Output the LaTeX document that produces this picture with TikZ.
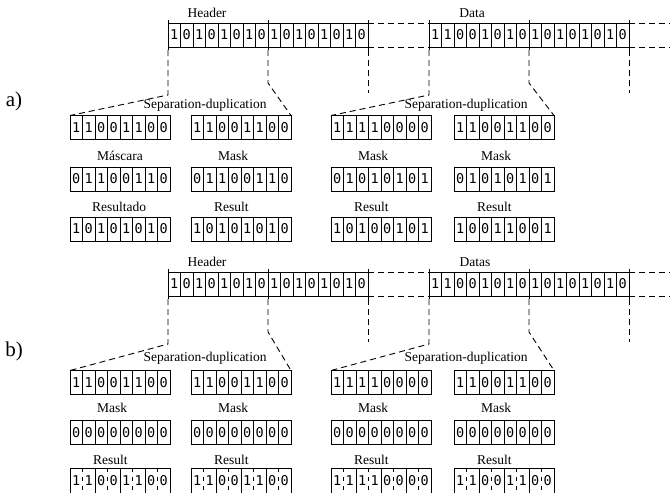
\documentclass[tikz,border=0pt]{standalone}
\usepackage{fontspec}
\setmainfont{Liberation Serif}
\newfontfamily\bitfont{DejaVu Sans Mono}
\usepackage{tikz}

% one row of bit cells: name, left x, centre y, bits
\newcommand{\bitrow}[4]{%
  \foreach \bitv [count=\idx] in {#4}
    \node[bit] (#1-\idx) at ({#2+12.5*(\idx-0.5)},#3) {\bitv};%
}
% same, cells grouped two by two
\newcommand{\pairrow}[4]{%
  \foreach \bitv [count=\idx] in {#4}
    \node[pbit] (#1-\idx) at ({#2+12.5*(\idx-0.5)},#3) {\bitv};%
  \draw[frame] (#1-1.north west) rectangle (#1-8.south east);%
  \foreach \idx in {2,4,6} \draw[frame] (#1-\idx.north east) -- (#1-\idx.south east);%
  \foreach \idx in {1,3,5,7} \draw[split] (#1-\idx.north east) -- (#1-\idx.south east);%
}

\begin{document}
\begin{tikzpicture}[
    x=1pt, y=-1pt,
    bit/.style={draw, line width=1pt, minimum width=12.5pt, minimum height=24pt, inner sep=0pt, outer sep=0pt, font=\bitfont\fontsize{13.5}{13.5}\selectfont},
    pbit/.style={minimum width=12.5pt, minimum height=26pt, inner sep=0pt, outer sep=0pt, font=\bitfont\fontsize{13.5}{13.5}\selectfont},
    frame/.style={line width=1pt},
    split/.style={line width=1pt, dash pattern=on 4pt off 5pt},
    cut/.style={line width=0.9pt, dash pattern=on 6pt off 4pt},
    lbl/.style={inner sep=0pt, font=\fontsize{13.5}{15}\selectfont},
    part/.style={inner sep=0pt, font=\fontsize{21}{23}\selectfont}
]
\clip (0,0) rectangle (670,493);

% ---- a)
\node[part] (pa) at (14,101) {a)};
\node[lbl] (hlA) at (207,13) {Header};
\node[lbl] (dlA) at (472,13) {Data};
\bitrow{hdrA}{168}{35}{1,0,1,0,1,0,1,0,1,0,1,0,1,0,1,0}
\bitrow{datA}{429}{35}{1,1,0,0,1,0,1,0,1,0,1,0,1,0,1,0}

\node[lbl] (slA1) at (205,105) {Separation-duplication};
\node[lbl] (slA2) at (466,105) {Separation-duplication};
\bitrow{sepA1}{70}{127.5}{1,1,0,0,1,1,0,0}
\bitrow{sepA2}{191}{127.5}{1,1,0,0,1,1,0,0}
\bitrow{sepA3}{331}{127.5}{1,1,1,1,0,0,0,0}
\bitrow{sepA4}{454}{127.5}{1,1,0,0,1,1,0,0}

\node[lbl, anchor=west] (mlA1) at (97,156) {Máscara};
\node[lbl, anchor=west] (mlA2) at (218,156) {Mask};
\node[lbl, anchor=west] (mlA3) at (358,156) {Mask};
\node[lbl, anchor=west] (mlA4) at (481,156) {Mask};
\bitrow{mskA1}{70}{179}{0,1,1,0,0,1,1,0}
\bitrow{mskA2}{191}{179}{0,1,1,0,0,1,1,0}
\bitrow{mskA3}{331}{179}{0,1,0,1,0,1,0,1}
\bitrow{mskA4}{454}{179}{0,1,0,1,0,1,0,1}

\node[lbl, anchor=west] (rlA1) at (92,207) {Resultado};
\node[lbl, anchor=west] (rlA2) at (214,207) {Result};
\node[lbl, anchor=west] (rlA3) at (354,207) {Result};
\node[lbl, anchor=west] (rlA4) at (477,207) {Result};
\bitrow{resA1}{70}{229}{1,0,1,0,1,0,1,0}
\bitrow{resA2}{191}{229}{1,0,1,0,1,0,1,0}
\bitrow{resA3}{331}{229}{1,0,1,0,0,1,0,1}
\bitrow{resA4}{454}{229}{1,0,0,1,1,0,0,1}

% ---- b)
\node[part] (pb) at (14,351) {b)};
\node[lbl] (hlB) at (207,262) {Header};
\node[lbl] (dlB) at (475,262) {Datas};
\bitrow{hdrB}{168}{284}{1,0,1,0,1,0,1,0,1,0,1,0,1,0,1,0}
\bitrow{datB}{429}{284}{1,1,0,0,1,0,1,0,1,0,1,0,1,0,1,0}

\node[lbl] (slB1) at (205,358) {Separation-duplication};
\node[lbl] (slB2) at (466,358) {Separation-duplication};
\bitrow{sepB1}{70}{382.5}{1,1,0,0,1,1,0,0}
\bitrow{sepB2}{191}{382.5}{1,1,0,0,1,1,0,0}
\bitrow{sepB3}{331}{382.5}{1,1,1,1,0,0,0,0}
\bitrow{sepB4}{454}{382.5}{1,1,0,0,1,1,0,0}

\node[lbl, anchor=west] (mlB1) at (97,408) {Mask};
\node[lbl, anchor=west] (mlB2) at (218,408) {Mask};
\node[lbl, anchor=west] (mlB3) at (358,408) {Mask};
\node[lbl, anchor=west] (mlB4) at (481,408) {Mask};
\bitrow{mskB1}{70}{432.5}{0,0,0,0,0,0,0,0}
\bitrow{mskB2}{191}{432.5}{0,0,0,0,0,0,0,0}
\bitrow{mskB3}{331}{432.5}{0,0,0,0,0,0,0,0}
\bitrow{mskB4}{454}{432.5}{0,0,0,0,0,0,0,0}

\node[lbl, anchor=west] (rlB1) at (93,460) {Result};
\node[lbl, anchor=west] (rlB2) at (214,460) {Result};
\node[lbl, anchor=west] (rlB3) at (354,460) {Result};
\node[lbl, anchor=west] (rlB4) at (477,460) {Result};
\pairrow{resB1}{70}{481}{1,1,0,0,1,1,0,0}
\pairrow{resB2}{191}{481}{1,1,0,0,1,1,0,0}
\pairrow{resB3}{331}{481}{1,1,1,1,0,0,0,0}
\pairrow{resB4}{454}{481}{1,1,0,0,1,1,0,0}

% ticks, gaps and cut lines of both packets
\foreach \r/\s in {A/sep, B/sep}{
  \foreach \f in {hdr\r, dat\r}{
    \draw[frame] ([yshift=3pt]\f-1.north west) -- ([yshift=-3pt]\f-1.south west);
    \draw[frame] ([yshift=3pt]\f-9.north west) -- ([yshift=-3pt]\f-9.south west);
    \draw[frame] ([yshift=3pt]\f-16.north east) -- ([yshift=-3pt]\f-16.south east);
  }
  \draw[cut] (hdr\r-16.north east) -- (dat\r-1.north west);
  \draw[cut] (hdr\r-16.south east) -- (dat\r-1.south west);
  \draw[cut] (dat\r-16.north east) -- ++(45,0);
  \draw[cut] (dat\r-16.south east) -- ++(45,0);
  \draw[cut] ([yshift=-3pt]hdr\r-1.south west) -- ++(0,45) -- (\s\r1-1.north west);
  \draw[cut] ([yshift=-3pt]hdr\r-9.south west) -- ++(0,33) -- (\s\r2-8.north east);
  \draw[cut] ([yshift=-3pt]hdr\r-16.south east) -- ++(0,43);
  \draw[cut] ([yshift=-3pt]dat\r-1.south west) -- ++(0,45) -- (\s\r3-1.north west);
  \draw[cut] ([yshift=-3pt]dat\r-9.south west) -- ++(0,33) -- (\s\r4-8.north east);
  \draw[cut] ([yshift=-3pt]dat\r-16.south east) -- ++(0,43);
}
\end{tikzpicture}
\end{document}
